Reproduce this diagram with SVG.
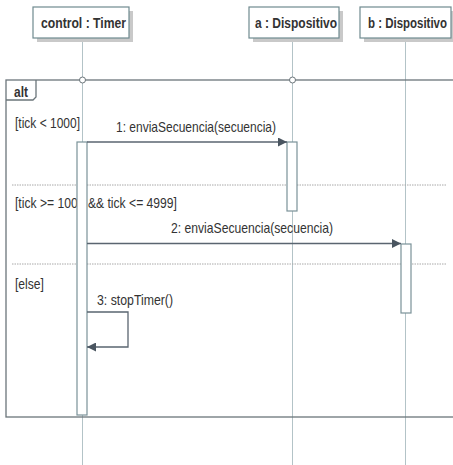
<svg xmlns="http://www.w3.org/2000/svg" width="453" height="465" viewBox="0 0 453 465">
<defs>
<style>
.life{stroke:#b3c3c7;stroke-width:1;fill:none}
.box{fill:#fff;stroke:#6f8a8f;stroke-width:1.2}
.shadow{fill:#c9c9c9}
.hdr{font-family:"Liberation Sans",Arial,sans-serif;font-weight:bold;font-size:15px;fill:#333}
.txt{font-family:"Liberation Sans",Arial,sans-serif;font-size:14.5px;fill:#333}
.frame{fill:none;stroke:#6b757a;stroke-width:1.3}
.sep{stroke:#a8a8a8;stroke-width:1;stroke-dasharray:1.5,1}
.act{fill:#fff;stroke:#7a9298;stroke-width:1.2}
.msg{stroke:#5a6570;stroke-width:1.3;fill:none}
</style>
<marker id="ah" viewBox="0 0 10 10" refX="10" refY="5" markerWidth="9" markerHeight="9" markerUnits="userSpaceOnUse" orient="auto">
<path d="M0,0 L10,5 L0,10 z" fill="#4a5560"/>
</marker>
</defs>
<rect width="453" height="465" fill="#fff"/>
<g id="lifelines">
<line class="life" x1="82.5" y1="38" x2="82.5" y2="465"/>
<line class="life" x1="292.5" y1="38" x2="292.5" y2="465"/>
<line class="life" x1="405.5" y1="38" x2="405.5" y2="465"/>
</g>
<g id="node-control">
<rect class="shadow" x="37" y="11" width="96" height="31"/>
<rect class="box" x="33" y="7" width="96" height="31"/>
<text class="hdr" x="41" y="28" textLength="85" lengthAdjust="spacingAndGlyphs">control : Timer</text>
</g>
<g id="node-a">
<rect class="shadow" x="253" y="11" width="90" height="31"/>
<rect class="box" x="249" y="7" width="90" height="31"/>
<text class="hdr" x="255" y="28" textLength="82" lengthAdjust="spacingAndGlyphs">a : Dispositivo</text>
</g>
<g id="node-b">
<rect class="shadow" x="364" y="11" width="89" height="31"/>
<rect class="box" x="360" y="7" width="91" height="31"/>
<text class="hdr" x="368" y="28" textLength="79" lengthAdjust="spacingAndGlyphs">b : Dispositivo</text>
</g>
<g id="frame-alt">
<rect class="frame" x="6" y="80" width="452" height="337"/>
<path class="frame" d="M6,100 L33,100 L36,97 L36,80" fill="#fff"/>
<text class="hdr" x="14" y="97" textLength="14" lengthAdjust="spacingAndGlyphs">alt</text>
<circle cx="82.5" cy="80" r="3" fill="#fff" stroke="#6b757a" stroke-width="1"/>
<circle cx="292.5" cy="80" r="3" fill="#fff" stroke="#6b757a" stroke-width="1"/>
<line class="sep" x1="12" y1="185" x2="447" y2="185"/>
<line class="sep" x1="12" y1="264" x2="447" y2="264"/>
<text class="txt" x="15" y="128" textLength="65" lengthAdjust="spacingAndGlyphs">[tick &lt; 1000]</text>
<text class="txt" x="15" y="208" textLength="162" lengthAdjust="spacingAndGlyphs">[tick &gt;= 1000 &amp;&amp; tick &lt;= 4999]</text>
<text class="txt" x="15" y="289" textLength="29" lengthAdjust="spacingAndGlyphs">[else]</text>
</g>
<g id="activations">
<rect class="act" x="77" y="142" width="10" height="273"/>
<rect class="act" x="287" y="142" width="10" height="69"/>
<rect class="act" x="401" y="244" width="10" height="69"/>
</g>
<g id="connectors">
<line class="msg" x1="87" y1="142" x2="287" y2="142" marker-end="url(#ah)"/>
<text class="txt" x="116" y="132" textLength="160" lengthAdjust="spacingAndGlyphs">1: enviaSecuencia(secuencia)</text>
<line class="msg" x1="87" y1="243.5" x2="401" y2="243.5" marker-end="url(#ah)"/>
<text class="txt" x="171" y="233" textLength="162" lengthAdjust="spacingAndGlyphs">2: enviaSecuencia(secuencia)</text>
<polyline class="msg" points="87,312 128,312 128,347 87,347" marker-end="url(#ah)"/>
<text class="txt" x="97" y="305" textLength="76" lengthAdjust="spacingAndGlyphs">3: stopTimer()</text>
</g>
</svg>
